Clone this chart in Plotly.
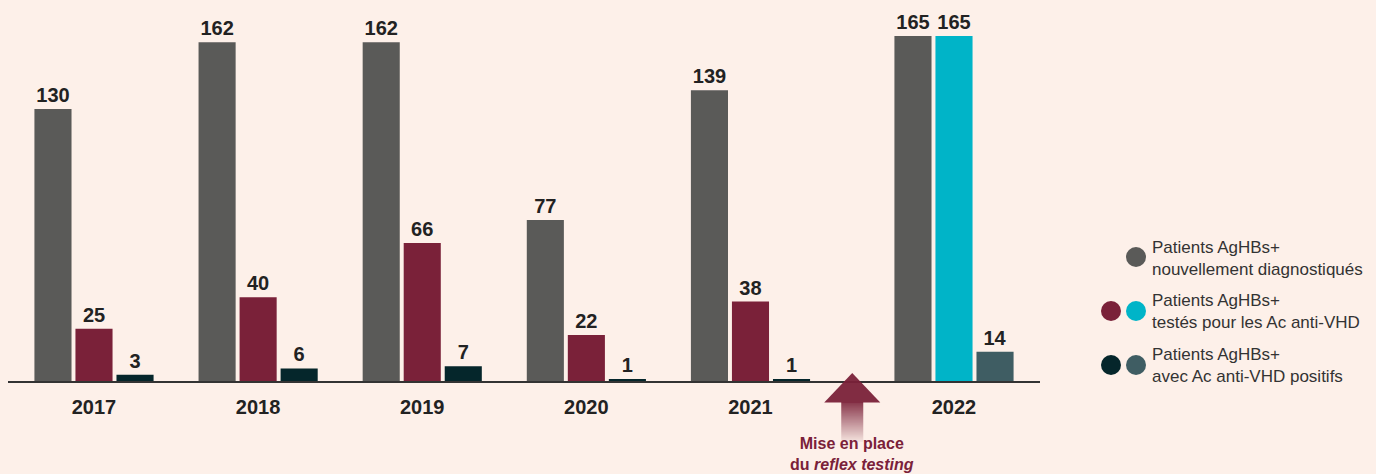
import plotly.graph_objects as go

years = ["2017", "2018", "2019", "2020", "2021", "2022"]
nouveaux = [130, 162, 162, 77, 139, 165]
testes = [25, 40, 66, 22, 38, 165]
positifs = [3, 6, 7, 1, 1, 14]

legend_lines = [
    "Patients AgHBs+<br>nouvellement diagnostiqués",
    "Patients AgHBs+<br>testés pour les Ac anti-VHD",
    "Patients AgHBs+<br>avec Ac anti-VHD positifs",
]

BG = "#fdf0e9"
GRAY = "#5a5a58"
MAROON = "#7a2139"
CYAN = "#00b4c8"
DARK = "#05262b"
TEAL = "#3f5d63"
FONT = "Liberation Sans, Arial, Helvetica"

# group positions: extra gap before 2022 (reflex testing introduced)
pos = [0, 1, 2, 3, 4, 5.24]

W = 0.226
offs = [-0.363, -0.113, 0.137]

fig = go.Figure()
series = [
    (nouveaux, [GRAY] * 6),
    (testes, [MAROON] * 5 + [CYAN]),
    (positifs, [DARK] * 5 + [TEAL]),
]
for (vals, cols), off in zip(series, offs):
    fig.add_trace(go.Bar(
        x=pos, y=vals, width=W, offset=off,
        marker=dict(color=cols, line=dict(width=0)),
        text=[str(v) for v in vals], textposition="outside",
        textfont=dict(family=FONT, size=20, color="#222222"),
        texttemplate="<b>%{text}</b>", cliponaxis=False,
        showlegend=False, hoverinfo="skip",
    ))

shapes = []
ax = (pos[4] + pos[5]) / 2
H = 366.0
def py(p):
    return (381 - p) / H
n = 40
top, bot = 402, 442
for i in range(n):
    y0 = top + (bot - top) * i / n
    y1 = top + (bot - top) * (i + 1) / n
    op = 0.85 * (1 - i / n) + 0.04
    shapes.append(dict(type="rect", xref="x", yref="paper",
                       x0=ax - 11 / 164, x1=ax + 11 / 164, y0=py(y0), y1=py(y1),
                       fillcolor=MAROON, opacity=op, line=dict(width=0), layer="above"))
shapes.append(dict(type="path", xref="x", yref="paper",
                   path=f"M {ax - 28/164} {py(402.5)} L {ax} {py(373)} L {ax + 28/164} {py(402.5)} Z",
                   fillcolor=MAROON, opacity=0.95, line=dict(width=0), layer="above"))

def circ(xp, yp, col):
    x = (xp - 8) / 1032
    y = (381 - yp) / H
    shapes.append(dict(type="circle", xref="paper", yref="paper", xsizemode="pixel", ysizemode="pixel",
                       xanchor=x, yanchor=y, x0=-10, x1=10, y0=-10, y1=10,
                       fillcolor=col, line=dict(width=0)))
circ(1136, 257, GRAY)
circ(1111, 311, MAROON)
circ(1136, 311, CYAN)
circ(1111, 365, DARK)
circ(1136, 365, TEAL)

annotations = []
for txt, yp in zip(legend_lines, [258, 311, 365]):
    annotations.append(dict(xref="paper", yref="paper", x=(1150 - 8) / 1032, y=(381 - yp) / H,
                            xanchor="left", yanchor="middle", align="left", showarrow=False,
                            text=txt, font=dict(family=FONT, size=17, color="#333333")))
annotations.append(dict(xref="x", yref="paper", x=ax, y=py(454), xanchor="center", yanchor="middle",
                        showarrow=False, align="center",
                        text="<b>Mise en place<br>du <i>reflex testing</i></b>",
                        font=dict(family=FONT, size=16, color=MAROON)))

fig.update_layout(
    width=1376, height=474,
    margin=dict(l=8, r=336, t=15, b=93),
    paper_bgcolor=BG, plot_bgcolor=BG,
    barmode="overlay",
    shapes=shapes, annotations=annotations,
    xaxis=dict(range=[-0.524, 5.764], tickvals=pos, ticktext=[f"<b>{y}</b>" for y in years],
               showgrid=False, zeroline=False, showline=True, linecolor="#333333", linewidth=1.5,
               ticks="", ticklabelstandoff=7,
               tickfont=dict(family=FONT, size=20, color="#222222"),
               fixedrange=True),
    yaxis=dict(range=[0, 175], visible=False, showgrid=False, zeroline=False, fixedrange=True),
)

fig.write_html("out.html", config={"displayModeBar": False},
               post_script="document.body.style.margin='0';document.body.style.background='%s';" % BG)
